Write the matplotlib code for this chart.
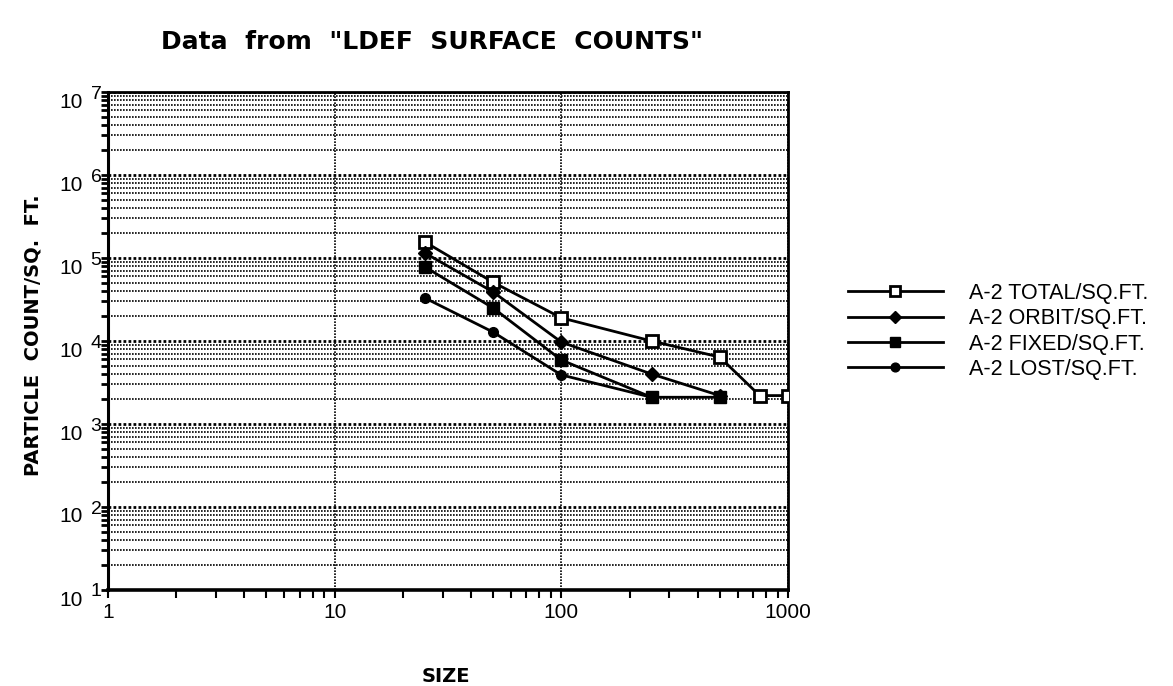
import matplotlib
matplotlib.use("Agg")
import matplotlib.pyplot as plt
from matplotlib.ticker import LogLocator, NullFormatter, FixedLocator

plt.rcParams['font.family'] = ['Liberation Sans', 'DejaVu Sans']

# ---- data ----
sizes_total = [25, 50, 100, 250, 500, 750, 1000]
total = [1.56e5, 5.1e4, 1.9e4, 1.0e4, 6.4e3, 2.2e3, 2.2e3]

sizes_orbit = [25, 50, 100, 250, 500]
orbit = [1.15e5, 3.9e4, 9.7e3, 4.0e3, 2.2e3]

sizes_fixed = [25, 50, 100, 250, 500]
fixed = [7.8e4, 2.5e4, 5.9e3, 2.1e3, 2.1e3]

sizes_lost = [25, 50, 100, 250]
lost = [3.3e4, 1.28e4, 3.9e3, 2.1e3]

labels = ["A-2 TOTAL/SQ.FT.", "A-2 ORBIT/SQ.FT.", "A-2 FIXED/SQ.FT.", "A-2 LOST/SQ.FT."]
x_ticks = [1, 10, 100, 1000]
x_tick_labels = ["1", "10", "100", "1000"]
y_exponents = [1, 2, 3, 4, 5, 6, 7]

title = 'Data  from  "LDEF  SURFACE  COUNTS"'
xlabel = "SIZE"
ylabel = "PARTICLE  COUNT/SQ.  FT."

# ---- figure ----
W, H = 1173, 686
fig = plt.figure(figsize=(W / 100, H / 100), dpi=100)
ax = fig.add_axes([108 / W, 1 - 590 / H, (788 - 108) / W, (590 - 92) / H])
ax.set_xscale('log')
ax.set_yscale('log')
ax.set_xlim(1, 1000)
ax.set_ylim(10, 1e7)

ax.yaxis.set_major_locator(LogLocator(base=10, numticks=20))
ax.yaxis.set_minor_locator(LogLocator(base=10, subs=range(2, 10), numticks=100))
ax.xaxis.set_major_locator(FixedLocator(x_ticks))
ax.xaxis.set_minor_locator(LogLocator(base=10, subs=range(2, 10), numticks=100))
ax.yaxis.set_major_formatter(NullFormatter())
ax.yaxis.set_minor_formatter(NullFormatter())
ax.xaxis.set_minor_formatter(NullFormatter())
ax.set_xticklabels([])

gls = (0, (1.0, 0.8))
ax.grid(True, which='major', axis='y', color='black', linestyle=gls, linewidth=2.0)
ax.grid(True, which='minor', axis='y', color='black', linestyle=gls, linewidth=1.2)
ax.grid(True, which='major', axis='x', color='black', linestyle=gls, linewidth=1.2)
ax.set_axisbelow(True)

ax.tick_params(axis='both', which='both', direction='out', color='black')
ax.tick_params(axis='y', which='both', length=5, width=2)
ax.tick_params(axis='x', which='both', length=6, width=1.5)
ax.tick_params(top=False, right=False)

ax.spines['left'].set_linewidth(2.2)
ax.spines['bottom'].set_linewidth(2.6)
ax.spines['top'].set_linewidth(2.0)
ax.spines['right'].set_linewidth(2.0)

lw = 2.0
ax.plot(sizes_total, total, color='black', lw=lw, marker='s', ms=8,
        mfc='white', mec='black', mew=2, label=labels[0], zorder=5)
ax.plot(sizes_orbit, orbit, color='black', lw=lw, marker='D', ms=7,
        mfc='black', mec='black', label=labels[1], zorder=5)
ax.plot(sizes_fixed, fixed, color='black', lw=lw, marker='s', ms=8,
        mfc='black', mec='black', label=labels[2], zorder=5)
ax.plot(sizes_lost, lost, color='black', lw=lw, marker='o', ms=7,
        mfc='black', mec='black', label=labels[3], zorder=5)

# y tick labels as "10" with raised exponent
for e in y_exponents:
    yv = 10.0 ** e
    ax.annotate("10", xy=(0, yv), xycoords=('axes fraction', 'data'),
                xytext=(-25, -10), textcoords='offset pixels',
                ha='right', va='center', fontsize=15)
    ax.annotate(str(e), xy=(0, yv), xycoords=('axes fraction', 'data'),
                xytext=(-12, -2), textcoords='offset pixels',
                ha='center', va='center', fontsize=14)

# x tick labels
for xv, lab in zip(x_ticks, x_tick_labels):
    ax.annotate(lab, xy=(xv, 0), xycoords=('data', 'axes fraction'),
                xytext=(0, -23), textcoords='offset pixels',
                ha='center', va='center', fontsize=15)

fig.text(432 / W, 1 - 42 / H, title, ha='center', va='center',
         fontsize=18, fontweight='bold', family=['DejaVu Sans'])
fig.text(446 / W, 1 - 677 / H, xlabel, ha='center', va='center',
         fontsize=14, fontweight='bold', family=['DejaVu Sans'])
fig.text(33 / W, 1 - 335 / H, ylabel, ha='center', va='center',
         rotation=90, fontsize=14, fontweight='bold', family=['DejaVu Sans'])

fig.legend(loc='upper left', bbox_to_anchor=(848 / W, 1 - 283 / H),
           frameon=False, fontsize=15.5, handlelength=4.4,
           handletextpad=1.2, labelspacing=0.2, borderpad=0,
           borderaxespad=0, markerscale=0.9)

fig.savefig('out.png', dpi=100)
